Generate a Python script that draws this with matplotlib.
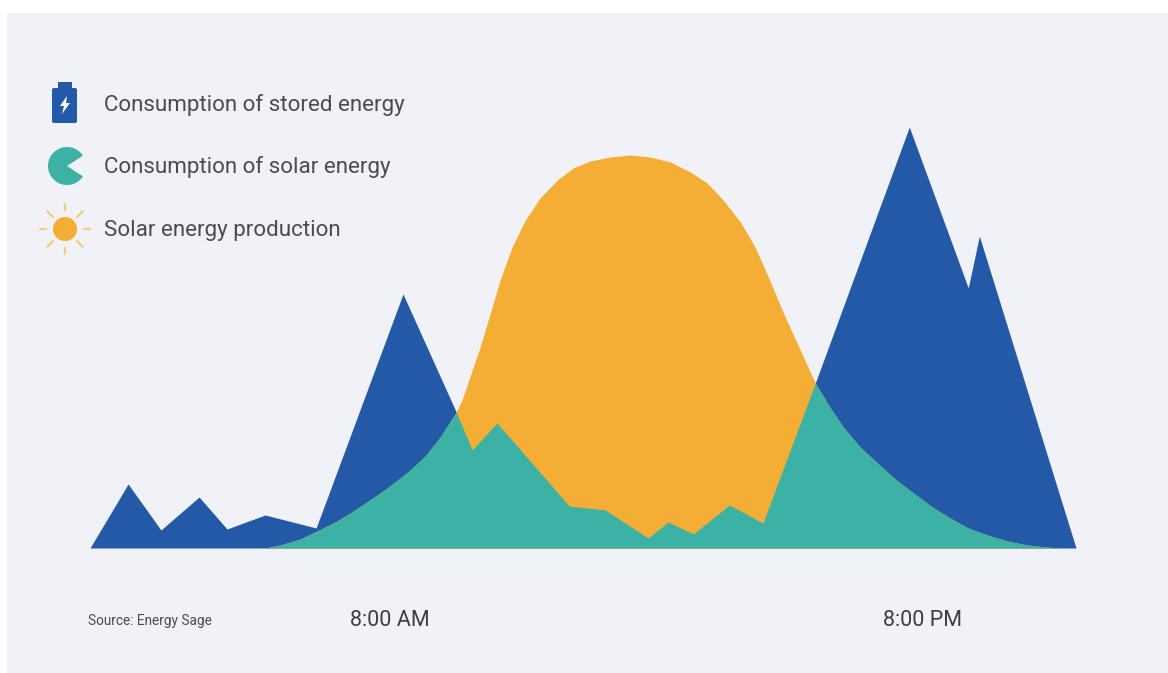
import numpy as np
import matplotlib
matplotlib.use("Agg")
import matplotlib.pyplot as plt
from matplotlib.patches import Rectangle, FancyBboxPatch, Wedge, Circle, Polygon

# values, x is hour of day, y is relative energy
stored_hours = [1.23, 2.09, 2.83, 3.69, 4.32, 5.18, 6.33, 8.29, 9.49,
                17.59, 19.71, 21.04, 21.29, 23.47]
stored_values = [0, 64, 18, 51, 19, 33, 20, 254, 136,
                 165, 421, 260, 312, 0]

solar_use_hours = [5.18, 5.52, 5.97, 6.35, 6.76, 7.10, 7.44, 7.77, 8.11, 8.45, 8.79, 9.13,
                   9.49, 9.85, 10.41,
                   12.04, 12.85, 13.82, 14.27, 14.84, 15.65, 16.41, 17.59,
                   17.90, 18.22, 18.60, 18.99, 19.39, 19.80, 20.20, 20.63,
                   21.04, 21.47, 21.92, 22.37, 22.78, 23.11]
solar_use_values = [0, 3, 9, 17, 26, 35, 45, 55, 66, 78, 92, 111,
                    136, 98, 125,
                    42, 38, 10, 26, 14, 43, 25, 165,
                    142, 121, 101, 85, 69, 55, 42, 30,
                    20, 13, 7, 3, 1, 0]

production_hours = [5.18, 5.52, 5.97, 6.35, 6.76, 7.10, 7.44, 7.77, 8.11, 8.45, 8.79, 9.13,
                    9.49, 9.62, 10.03, 10.26, 10.48, 10.75, 11.05, 11.38, 11.77,
                    12.13, 12.51, 12.96, 13.41, 13.87, 14.32, 14.77, 15.15, 15.51,
                    15.90, 16.23, 16.53, 16.87, 17.25, 17.59,
                    17.90, 18.22, 18.60, 18.99, 19.39, 19.80, 20.20, 20.63,
                    21.04, 21.47, 21.92, 22.37, 22.78, 23.11]
production_values = [0, 3, 9, 17, 26, 35, 45, 55, 66, 78, 92, 111,
                     136, 148, 201, 235, 268, 301, 328, 350, 368,
                     380, 387, 391, 393, 391, 386, 376, 365, 348,
                     326, 301, 271, 235, 198, 165,
                     142, 121, 101, 85, 69, 55, 42, 30,
                     20, 13, 7, 3, 1, 0]

tick_hours = [8, 20]
tick_labels = ["8:00 AM", "8:00 PM"]
legend_labels = ["Consumption of stored energy",
                 "Consumption of solar energy",
                 "Solar energy production"]
source_text = "Source: Energy Sage"

BLUE = "#2459A8"
TEAL = "#3BB2A4"
ORANGE = "#F5AE35"
PANEL = "#F1F2F7"
TEXT = "#4A4C50"
W, H = 1168, 673
FONT = "Roboto"

fig = plt.figure(figsize=(W / 100, H / 100), dpi=100, facecolor="white")

# pixel overlay for the panel and the legend icons
bg = fig.add_axes([0, 0, 1, 1], zorder=0)
bg.set_xlim(0, W)
bg.set_ylim(H, 0)
bg.axis("off")
bg.add_patch(Rectangle((7, 13), W - 7, H - 13, fc=PANEL, ec="none"))

# chart
ax = fig.add_axes([90 / W, (H - 548) / H, (1076 - 90) / W, 448 / H], zorder=1)
ax.patch.set_alpha(0)
ax.set_xlim(1.23, 23.47)
ax.set_ylim(0, 448)
ax.fill_between(stored_hours, stored_values, 0, color=BLUE, lw=0, zorder=1)
ax.fill_between(production_hours, production_values, 0, color=ORANGE, lw=0, zorder=2)
ax.fill_between(solar_use_hours, solar_use_values, 0, color=TEAL, lw=0, zorder=3)
for s in ax.spines.values():
    s.set_visible(False)
ax.set_yticks([])
ax.set_xticks(tick_hours)
ax.set_xticklabels(tick_labels, fontsize=15.5, color="#3C3E42", family=FONT)
ax.tick_params(axis="x", length=0, pad=45)

# legend icons
bg.add_patch(FancyBboxPatch((52, 88), 25, 35, boxstyle="round,pad=0,rounding_size=2",
                            fc=BLUE, ec="none"))
bg.add_patch(Rectangle((58, 82), 14, 8, fc=BLUE, ec="none"))
bg.add_patch(Polygon([(67, 96), (60, 106), (64, 106), (62, 114), (70, 103), (66, 103)],
                     fc="white", ec="none"))
bg.add_patch(Wedge((67, 166), 19, 33, 327, fc=TEAL, ec="none"))
bg.add_patch(Circle((65, 229), 12, fc=ORANGE, ec="none"))
for a in np.deg2rad(np.arange(0, 360, 45)):
    r0, r1 = 17 if int(np.rad2deg(a)) % 90 else 19, 25
    bg.plot([65 + r0 * np.cos(a), 65 + r1 * np.cos(a)],
            [229 + r0 * np.sin(a), 229 + r1 * np.sin(a)],
            color="#F8CB7A", lw=1.6, solid_capstyle="round")

for label, y in zip(legend_labels, [104.5, 167.5, 230.5]):
    bg.text(104, y, label, fontsize=16.1, color=TEXT, va="center", ha="left", family=FONT)
bg.text(88, 621, source_text, fontsize=9.8, color=TEXT, va="center", ha="left", family=FONT)

fig.savefig("out.png", dpi=100, facecolor=fig.get_facecolor())
